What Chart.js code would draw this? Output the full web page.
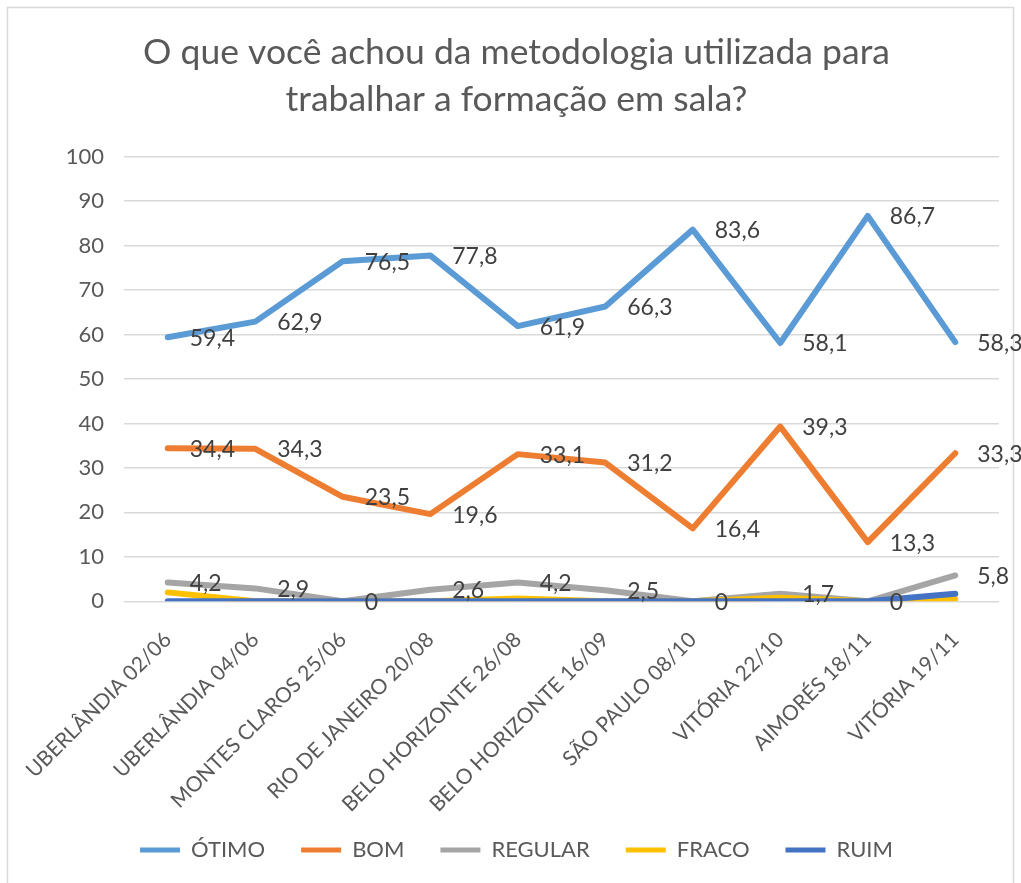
<!DOCTYPE html>
<html>
<head>
<meta charset="utf-8">
<script src="https://cdn.jsdelivr.net/npm/chart.js@4/dist/chart.umd.min.js"></script>
<style>
  html, body { margin: 0; padding: 0; background: #fff; }
  #wrap { width: 1021px; height: 883px; }
</style>
</head>
<body>
<div id="wrap"><canvas id="chart" width="1021" height="883"></canvas></div>
<script>
const categories = ['UBERLÂNDIA 02/06', 'UBERLÂNDIA 04/06', 'MONTES CLAROS 25/06', 'RIO DE JANEIRO 20/08',
  'BELO HORIZONTE 26/08', 'BELO HORIZONTE 16/09', 'SÃO PAULO 08/10', 'VITÓRIA 22/10', 'AIMORÉS 18/11', 'VITÓRIA 19/11'];
const otimo   = [59.4, 62.9, 76.5, 77.8, 61.9, 66.3, 83.6, 58.1, 86.7, 58.3];
const bom     = [34.4, 34.3, 23.5, 19.6, 33.1, 31.2, 16.4, 39.3, 13.3, 33.3];
const regular = [4.2, 2.9, 0, 2.6, 4.2, 2.5, 0, 1.7, 0, 5.8];
const fraco   = [2.0, 0, 0, 0, 0.6, 0, 0, 0.8, 0, 0.5];
const ruim    = [0, 0, 0, 0, 0, 0, 0, 0, 0, 1.7];
const yTicks  = [0, 10, 20, 30, 40, 50, 60, 70, 80, 90, 100];

const FONT = 'Lato';
const TEXT = '#595959';

function fmt(v) {
  return String(v).replace('.', ',');
}

// value labels to the right of each point, like excel
const valueLabels = {
  id: 'valueLabels',
  afterDatasetsDraw(chart) {
    const ctx = chart.ctx;
    ctx.save();
    ctx.font = '23px ' + FONT;
    ctx.fillStyle = '#404040';
    ctx.textAlign = 'left';
    ctx.textBaseline = 'middle';
    chart.data.datasets.forEach((ds, i) => {
      if (!ds.showValues) return;
      chart.getDatasetMeta(i).data.forEach((pt, j) => {
        ctx.fillText(fmt(ds.data[j]), pt.x + 22, pt.y + 1);
      });
    });
    ctx.restore();
  }
};

const frame = {
  id: 'frame',
  beforeDraw(chart) {
    const ctx = chart.ctx;
    ctx.save();
    ctx.fillStyle = '#fff';
    ctx.fillRect(0, 0, chart.width, chart.height);
    ctx.strokeStyle = '#d9d9d9';
    ctx.lineWidth = 1.5;
    ctx.strokeRect(7.5, 7.5, 1006, 890);
    ctx.restore();
  },
  // x labels are clipped to the axis box, let them run down into the legend gap
  afterLayout(chart) {
    chart.scales.x.bottom += 40;
  }
};

function series(label, data, color, order, showValues) {
  return {
    label: label,
    data: data,
    borderColor: color,
    backgroundColor: color,
    borderWidth: 6,
    borderCapStyle: 'round',
    borderJoinStyle: 'round',
    pointRadius: 0,
    tension: 0,
    order: order,
    showValues: showValues
  };
}

new Chart(document.getElementById('chart'), {
  type: 'line',
  data: {
    labels: categories,
    datasets: [
      series('ÓTIMO', otimo, '#5B9BD5', 5, true),
      series('BOM', bom, '#ED7D31', 4, true),
      series('REGULAR', regular, '#A5A5A5', 3, true),
      series('FRACO', fraco, '#FFC000', 2, false),
      series('RUIM', ruim, '#4472C4', 1, false)
    ]
  },
  options: {
    responsive: false,
    animation: false,
    layout: { padding: { left: 34, right: 22, top: 7, bottom: 12 } },
    plugins: {
      title: {
        display: true,
        text: ['O que você achou da metodologia utilizada para', 'trabalhar a formação em sala?'],
        color: TEXT,
        font: { family: FONT, size: 35.5, weight: 'normal', lineHeight: 1.32 },
        padding: { top: 22, bottom: 34 }
      },
      legend: {
        position: 'bottom',
        labels: {
          color: TEXT,
          font: { family: FONT, size: 22 },
          boxWidth: 40,
          boxHeight: 5,
          padding: 36,
          sort: (a, b) => a.datasetIndex - b.datasetIndex,
          generateLabels(chart) {
            return Chart.defaults.plugins.legend.labels.generateLabels(chart)
              .map(item => Object.assign(item, { lineWidth: 0 }));
          }
        }
      },
      tooltip: { enabled: false }
    },
    scales: {
      x: {
        offset: true,
        grid: { display: false },
        border: { display: false },
        afterFit(scale) {
          scale.height -= 32;
        },
        ticks: {
          color: TEXT,
          font: { family: FONT, size: 21 },
          minRotation: 45,
          maxRotation: 45,
          padding: 18,
          autoSkip: false
        }
      },
      y: {
        min: 0,
        max: 100,
        afterBuildTicks(scale) {
          scale.ticks = yTicks.map(v => ({ value: v }));
        },
        afterFit(scale) {
          scale.width = 90;
        },
        grid: { color: '#d9d9d9', lineWidth: 1.5, drawTicks: false },
        border: { display: false },
        ticks: {
          color: TEXT,
          font: { family: FONT, size: 22 },
          padding: 20
        }
      }
    }
  },
  plugins: [frame, valueLabels]
});
</script>
</body>
</html>
